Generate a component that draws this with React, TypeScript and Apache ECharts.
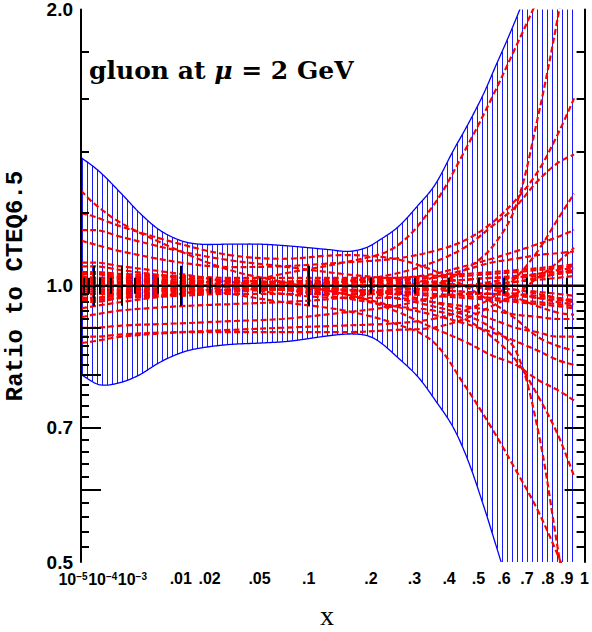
import React, { useEffect, useRef } from 'react';
import * as echarts from 'echarts';

// ---------------- data ----------------
// x positions (momentum fraction) where each PDF-set ratio is read
const KNOTS_X = [1e-5, 1e-4, 1e-3, 0.01, 0.03, 0.07, 0.15, 0.25, 0.35, 0.45, 0.55, 0.65, 0.75, 0.85, 0.94];

// uncertainty band (blue hatched)
const BAND_X = [1e-5, 2e-4, 1e-3, 2.5e-3, 5.3e-3, 0.01, 0.016, 0.03, 0.05, 0.077, 0.127, 0.159, 0.19, 0.216, 0.26, 0.31, 0.358, 0.414, 0.463, 0.52, 0.564, 0.62, 0.668, 0.75, 0.85, 0.94];
const BAND_UPPER = [1.38, 1.33, 1.26, 1.20, 1.15, 1.12, 1.11, 1.11, 1.11, 1.105, 1.095, 1.09, 1.10, 1.12, 1.16, 1.224, 1.29, 1.405, 1.50, 1.62, 1.73, 1.87, 2.0, 2.25, 2.6, 3.0];
const BAND_LOWER = [0.80, 0.78, 0.785, 0.80, 0.825, 0.845, 0.855, 0.863, 0.866, 0.87, 0.882, 0.886, 0.883, 0.87, 0.834, 0.795, 0.75, 0.70, 0.645, 0.575, 0.525, 0.47, 0.43, 0.37, 0.31, 0.26];

// individual PDF sets (ratio to CTEQ6.5), values at KNOTS_X
const W1 = [1.27, 1.23, 1.17, 1.09, 1.04, 1.01, 0.98, 0.95, 0.93, 0.91, 0.89, 0.87, 0.85, 0.83, 0.82];
const W2 = [1.15, 1.15, 1.13, 1.09, 1.066, 1.05, 1.03, 1.02, 1.03, 1.05, 1.07, 1.09, 1.11, 1.13, 1.15];
const W3 = [1.12, 1.11, 1.09, 1.06, 1.048, 1.05, 1.06, 1.07, 1.09, 1.12, 1.17, 1.24, 1.33, 1.46, 1.60];
const W4 = [1.06, 1.06, 1.05, 1.03, 1.01, 1.0, 0.99, 0.98, 0.96, 0.94, 0.92, 0.90, 0.89, 0.88, 0.88];
const W5 = [0.945, 0.95, 0.96, 0.98, 1.0, 1.03, 1.06, 1.10, 1.22, 1.40, 1.60, 1.82, 2.05, 2.30, 2.60];
const W6 = [0.924, 0.93, 0.94, 0.95, 0.955, 0.96, 0.97, 0.99, 1.02, 1.04, 1.06, 1.07, 1.08, 1.085, 1.09];
const W7 = [0.90, 0.90, 0.905, 0.91, 0.915, 0.92, 0.935, 0.95, 0.97, 0.98, 0.98, 0.97, 0.95, 0.935, 0.93];
const W8 = [0.866, 0.87, 0.88, 0.89, 0.895, 0.90, 0.905, 0.91, 0.92, 0.94, 0.97, 1.02, 1.09, 1.18, 1.26];
const W9 = [1.02, 1.02, 1.02, 1.0, 0.98, 0.96, 0.94, 0.91, 0.87, 0.78, 0.70, 0.63, 0.57, 0.51, 0.46];
const W10 = [1.0, 1.0, 1.0, 1.0, 1.0, 1.0, 0.99, 0.97, 0.95, 0.93, 0.90, 0.85, 0.70, 0.52, 0.40];
const W11 = [1.03, 1.03, 1.02, 1.01, 1.0, 0.99, 0.97, 0.95, 0.94, 0.92, 0.88, 0.83, 0.76, 0.69, 0.62];
const W12 = [0.97, 0.97, 0.98, 0.99, 1.0, 1.0, 0.98, 0.94, 0.90, 0.87, 0.84, 0.82, 0.79, 0.77, 0.75];
const W13 = [1.05, 1.05, 1.04, 1.02, 1.0, 0.98, 0.97, 0.97, 0.96, 0.95, 0.94, 0.93, 0.925, 0.92, 0.92];
const W14 = [1.0, 1.0, 1.0, 1.0, 1.0, 0.99, 0.98, 0.98, 1.0, 1.04, 1.10, 1.22, 1.52, 1.95, 2.50];
const W15 = [0.96, 0.96, 0.97, 0.98, 0.99, 1.0, 1.01, 1.03, 1.06, 1.10, 1.16, 1.22, 1.30, 1.36, 1.39];
const W16 = [0.88, 0.88, 0.885, 0.89, 0.89, 0.89, 0.89, 0.895, 0.90, 0.92, 0.95, 0.98, 1.02, 1.06, 1.10];
const W17 = [1.20, 1.19, 1.16, 1.11, 1.08, 1.07, 1.08, 1.07, 1.04, 1.0, 0.96, 0.92, 0.88, 0.86, 0.85];

const T1 = [1.03, 1.03, 1.025, 1.02, 1.015, 1.01, 1.01, 1.015, 1.02, 1.025, 1.03, 1.035, 1.04, 1.045, 1.05];
const T2 = [0.97, 0.97, 0.975, 0.98, 0.985, 0.99, 0.99, 0.985, 0.98, 0.975, 0.97, 0.965, 0.96, 0.955, 0.95];
const T3 = [1.02, 1.02, 1.02, 1.015, 1.01, 1.005, 1.0, 0.995, 0.99, 0.985, 0.98, 0.98, 0.975, 0.97, 0.965];
const T4 = [0.98, 0.98, 0.98, 0.985, 0.99, 0.995, 1.0, 1.005, 1.01, 1.015, 1.02, 1.02, 1.025, 1.03, 1.035];
const T5 = [1.01, 1.01, 1.01, 1.01, 1.01, 1.01, 1.005, 1.0, 1.0, 1.0, 1.005, 1.01, 1.015, 1.02, 1.025];
const T6 = [0.99, 0.99, 0.99, 0.99, 0.99, 0.99, 0.995, 1.0, 1.0, 1.0, 0.995, 0.99, 0.985, 0.98, 0.975];
const T7 = [1.025, 1.02, 1.015, 1.005, 0.995, 0.99, 0.985, 0.985, 0.99, 1.0, 1.01, 1.02, 1.03, 1.04, 1.045];
const T8 = [0.975, 0.98, 0.985, 0.995, 1.005, 1.01, 1.015, 1.015, 1.01, 1.0, 0.99, 0.98, 0.97, 0.96, 0.955];
const T9 = [1.0, 1.0, 1.0, 1.0, 1.0, 1.0, 1.0, 1.0, 1.0, 1.0, 1.0, 1.0, 1.0, 1.0, 1.0];
const T10 = [1.015, 1.015, 1.01, 1.005, 1.0, 0.995, 0.99, 0.99, 0.995, 1.0, 1.005, 1.01, 1.02, 1.03, 1.04];
const T11 = [0.985, 0.985, 0.99, 0.995, 1.0, 1.005, 1.01, 1.01, 1.005, 1.0, 0.995, 0.99, 0.98, 0.97, 0.96];
const T12 = [1.005, 1.005, 1.005, 1.0, 1.0, 1.0, 1.0, 1.005, 1.01, 1.015, 1.02, 1.025, 1.03, 1.035, 1.04];
const T13 = [0.995, 0.995, 0.995, 1.0, 1.0, 1.0, 1.0, 0.995, 0.99, 0.985, 0.98, 0.975, 0.97, 0.965, 0.96];
const T14 = [1.035, 1.035, 1.03, 1.025, 1.02, 1.02, 1.02, 1.02, 1.025, 1.03, 1.035, 1.04, 1.045, 1.05, 1.055];
const T15 = [0.965, 0.965, 0.97, 0.975, 0.98, 0.98, 0.98, 0.98, 0.975, 0.97, 0.965, 0.96, 0.955, 0.95, 0.945];

const PDF_SETS = [W1, W2, W3, W4, W5, W6, W7, W8, W9, W10, W11, W12, W13, W14, W15, W16, W17,
  T1, T2, T3, T4, T5, T6, T7, T8, T9, T10, T11, T12, T13, T14, T15];

// axis ticks
const X_MIN = 1e-5;
const X_MAX = 1;
const X_MAJOR_TICKS = [1e-5, 1e-4, 1e-3, 0.01, 0.1];
const X_MINOR_TICKS = [2e-5, 5e-5, 2e-4, 5e-4, 2e-3, 5e-3, 0.02, 0.05, 0.2, 0.3, 0.4, 0.5, 0.6, 0.7, 0.8, 0.9];
const X_POWER_LABEL_VALUES = [1e-5, 1e-4, 1e-3];
const X_POWER_LABEL_EXPONENTS = ['\u22125', '\u22124', '\u22123'];
const X_LABEL_VALUES = [0.01, 0.02, 0.05, 0.1, 0.2, 0.3, 0.4, 0.5, 0.6, 0.7, 0.8, 0.9, 1];
const X_LABEL_TEXTS = ['.01', '.02', '.05', '.1', '.2', '.3', '.4', '.5', '.6', '.7', '.8', '.9', '1'];

const Y_MIN = 0.5;
const Y_MAX = 2.0;
const Y_MAJOR_TICKS = [0.6, 0.7, 0.8, 0.9, 1.0];
const Y_MINOR_TICKS = [0.52, 0.54, 0.56, 0.58, 0.62, 0.64, 0.66, 0.68, 0.72, 0.74, 0.76, 0.78, 0.82, 0.84, 0.86, 0.88, 0.92, 0.94, 0.96, 0.98, 1.2, 1.4, 1.6, 1.8];
const Y_LABEL_VALUES = [0.5, 0.7, 1.0, 2.0];

// ---------------- helpers ----------------
const fx = (x: number) => Math.cbrt(x);
const fy = (r: number) => Math.log(r);

function hermite(ts: number[], vs: number[], t: number) {
  const n = ts.length;
  if (t <= ts[0]) return vs[0];
  if (t >= ts[n - 1]) return vs[n - 1];
  let i = 0;
  while (i < n - 2 && t > ts[i + 1]) i++;
  const tan = (k: number) =>
    k === 0 ? (vs[1] - vs[0]) / (ts[1] - ts[0])
      : k === n - 1 ? (vs[n - 1] - vs[n - 2]) / (ts[n - 1] - ts[n - 2])
        : (vs[k + 1] - vs[k - 1]) / (ts[k + 1] - ts[k - 1]);
  const h = ts[i + 1] - ts[i];
  const s = (t - ts[i]) / h;
  const s2 = s * s, s3 = s2 * s;
  return (2 * s3 - 3 * s2 + 1) * vs[i] + (s3 - 2 * s2 + s) * h * tan(i)
    + (-2 * s3 + 3 * s2) * vs[i + 1] + (s3 - s2) * h * tan(i + 1);
}

const FONT_SANS = '"Liberation Sans", Arial, Helvetica, sans-serif';

export default function App() {
  const ref = useRef<HTMLDivElement>(null);

  useEffect(() => {
    document.body.style.margin = '0';
    if (!ref.current) return;
    const chart = echarts.init(ref.current, null, { renderer: 'svg' });

    const bandT = BAND_X.map(fx);
    const bandU = BAND_UPPER.map(fy);
    const bandL = BAND_LOWER.map(fy);

    const xmin = fx(X_MIN), xmax = fx(X_MAX);
    const ymin = fy(Y_MIN), ymax = fy(Y_MAX);

    const labelTs = X_LABEL_VALUES.map(fx);
    const xFormatter = (v: number) => {
      let best = 0, bd = Infinity;
      labelTs.forEach((t, i) => { const d = Math.abs(t - v); if (d < bd) { bd = d; best = i; } });
      return X_LABEL_TEXTS[best];
    };

    const axisLine = { show: true, lineStyle: { color: '#000', width: 2 } };
    const baseX = {
      type: 'value', min: xmin, max: xmax, gridIndex: 0, z: 10,
      splitLine: { show: false },
    };
    const baseY = {
      type: 'value', min: ymin, max: ymax, gridIndex: 0, z: 10,
      splitLine: { show: false },
    };

    const xAxes = [
      {
        ...baseX, position: 'bottom', axisLine,
        axisTick: { show: true, inside: true, length: 20, lineStyle: { color: '#000', width: 2 }, customValues: X_MAJOR_TICKS.map(fx) },
        axisLabel: {
          show: true, customValues: labelTs, margin: 8, formatter: xFormatter,
          hideOverlap: false,
          fontFamily: FONT_SANS, fontWeight: 'bold', fontSize: 16, color: '#000',
        },
      },
      {
        ...baseX, position: 'bottom', axisLine: { show: false },
        axisTick: { show: true, inside: true, length: 8, lineStyle: { color: '#000', width: 2 }, customValues: X_MINOR_TICKS.map(fx) },
        axisLabel: { show: false },
      },
      {
        ...baseX, position: 'top', axisLine,
        axisTick: { show: true, inside: true, length: 20, lineStyle: { color: '#000', width: 2 }, customValues: X_MAJOR_TICKS.map(fx) },
        axisLabel: { show: false },
      },
      {
        ...baseX, position: 'top', axisLine: { show: false },
        axisTick: { show: true, inside: true, length: 8, lineStyle: { color: '#000', width: 2 }, customValues: X_MINOR_TICKS.map(fx) },
        axisLabel: { show: false },
      },
    ];

    const yAxes = [
      {
        ...baseY, position: 'left', axisLine,
        axisTick: { show: true, inside: true, length: 20, lineStyle: { color: '#000', width: 2 }, customValues: Y_MAJOR_TICKS.map(fy) },
        axisLabel: {
          show: true, customValues: Y_LABEL_VALUES.map(fy), margin: 8,
          showMinLabel: true, showMaxLabel: true,
          formatter: (v: number) => Math.exp(v).toFixed(1),
          fontFamily: FONT_SANS, fontWeight: 'bold', fontSize: 19, color: '#000',
        },
      },
      {
        ...baseY, position: 'left', axisLine: { show: false },
        axisTick: { show: true, inside: true, length: 8, lineStyle: { color: '#000', width: 2 }, customValues: Y_MINOR_TICKS.map(fy) },
        axisLabel: { show: false },
      },
      {
        ...baseY, position: 'right', axisLine,
        axisTick: { show: true, inside: true, length: 20, lineStyle: { color: '#000', width: 2 }, customValues: Y_MAJOR_TICKS.map(fy) },
        axisLabel: { show: false },
      },
      {
        ...baseY, position: 'right', axisLine: { show: false },
        axisTick: { show: true, inside: true, length: 8, lineStyle: { color: '#000', width: 2 }, customValues: Y_MINOR_TICKS.map(fy) },
        axisLabel: { show: false },
      },
    ];

    const bandSeries = {
      type: 'custom',
      xAxisIndex: 0, yAxisIndex: 0,
      z: 1, clip: true, silent: true,
      data: [[bandT[0], 0]],
      renderItem: (params: any, api: any) => {
        const tA = bandT[0], tB = bandT[bandT.length - 1];
        const pA = api.coord([tA, 0])[0];
        const pB = api.coord([tB, 0])[0];
        const toT = (px: number) => tA + (px - pA) / (pB - pA) * (tB - tA);
        const up: number[][] = [], lo: number[][] = [];
        for (let px = pA; px <= pB + 0.001; px += 1) {
          const t = toT(Math.min(px, pB));
          up.push(api.coord([t, hermite(bandT, bandU, t)]));
          lo.push(api.coord([t, hermite(bandT, bandL, t)]));
        }
        const children: any[] = [];
        for (let px = pA + 1; px <= pB + 0.001; px += 5) {
          const t = toT(px);
          const a = api.coord([t, hermite(bandT, bandU, t)]);
          const b = api.coord([t, hermite(bandT, bandL, t)]);
          const xx = Math.round(px) + 0.5;
          children.push({
            type: 'line', shape: { x1: xx, y1: a[1], x2: xx, y2: b[1] },
            style: { stroke: '#1a1aff', lineWidth: 1 },
          });
        }
        children.push({ type: 'polyline', shape: { points: up }, style: { stroke: '#0000ff', lineWidth: 1.3, fill: null } });
        children.push({ type: 'polyline', shape: { points: lo }, style: { stroke: '#0000ff', lineWidth: 1.3, fill: null } });
        return { type: 'group', children };
      },
    };

    const unitySeries = {
      type: 'line', xAxisIndex: 0, yAxisIndex: 0, z: 2, silent: true,
      showSymbol: false, symbol: 'none',
      data: [[xmin, fy(1)], [xmax, fy(1)]],
      lineStyle: { color: '#000', width: 2.5 },
    };

    const knotT = KNOTS_X.map(fx);
    const setSeries = PDF_SETS.map((vals) => ({
      type: 'line', xAxisIndex: 0, yAxisIndex: 0, z: 3, silent: true,
      showSymbol: false, symbol: 'none', smooth: 0.35, clip: true,
      data: vals.map((r, i) => [knotT[i], fy(r)]),
      lineStyle: { color: '#ff0000', width: 2.2, type: [6, 3] },
    }));

    const baseGraphics: any[] = [
      {
        id: 'title', type: 'text', x: 89, y: 70, z: 50,
        style: {
          text: '{a|gluon at }{m|\u03bc}{a| = 2 GeV}',
          textVerticalAlign: 'middle',
          rich: {
            a: { fontFamily: '"DejaVu Serif", serif', fontWeight: 'bold', fontSize: 25, fill: '#000' },
            m: { fontFamily: '"DejaVu Serif", serif', fontWeight: 'bold', fontStyle: 'italic', fontSize: 25, fill: '#000' },
          },
        },
      },
      {
        id: 'ytitle', type: 'text', x: 15, y: 286, rotation: Math.PI / 2, z: 50,
        style: {
          text: 'Ratio to CTEQ6.5',
          textAlign: 'center', textVerticalAlign: 'middle',
          font: 'bold 24px "Liberation Mono", "Courier New", monospace', fill: '#000',
        },
      },
      {
        id: 'xtitle', type: 'text', x: 327, y: 615, z: 50,
        style: {
          text: 'x',
          textAlign: 'center', textVerticalAlign: 'middle',
          font: '28px "Liberation Serif", "DejaVu Serif", serif', fill: '#000',
        },
      },
    ];

    chart.setOption({
      animation: false,
      grid: { left: 81, right: 5, top: 9, bottom: 70, containLabel: false },
      xAxis: xAxes,
      yAxis: yAxes,
      series: [bandSeries, unitySeries, ...setSeries],
      graphic: baseGraphics,
    });

    // power-of-ten labels, placed at their ticks through the axis scale,
    // nudged sideways as in the original so they do not collide
    const POWER_NUDGE = [-8, 9, 11];
    const powerLabels = X_POWER_LABEL_VALUES.map((v, i) => {
      const px = chart.convertToPixel({ xAxisIndex: 0 }, fx(v)) as number;
      return {
        id: 'pow' + i, type: 'text', x: px + POWER_NUDGE[i], y: 579, z: 50,
        style: {
          text: `{b|10}{s|${X_POWER_LABEL_EXPONENTS[i]}}`,
          textAlign: 'center', textVerticalAlign: 'middle',
          rich: {
            b: { fontFamily: FONT_SANS, fontWeight: 'bold', fontSize: 16, fill: '#000' },
            s: { fontFamily: FONT_SANS, fontWeight: 'bold', fontSize: 10, fill: '#000', verticalAlign: 'top' },
          },
        },
      };
    });
    chart.setOption({ graphic: [...baseGraphics, ...powerLabels] });

    return () => chart.dispose();
  }, []);

  return <div ref={ref} style={{ width: 592, height: 632 }} />;
}
